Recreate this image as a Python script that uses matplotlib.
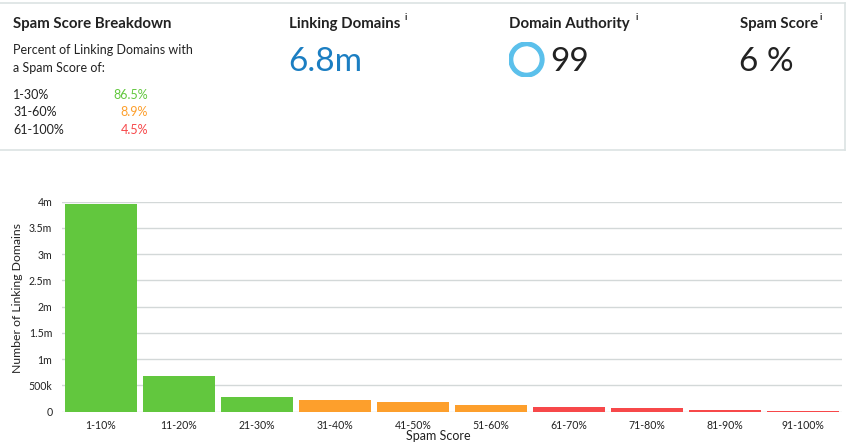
import matplotlib.pyplot as plt
from matplotlib.patches import Wedge
from matplotlib.lines import Line2D

plt.rcParams['font.family'] = ['Lato', 'DejaVu Sans']

W, H = 852, 445

categories = ['1-10%', '11-20%', '21-30%', '31-40%', '41-50%',
              '51-60%', '61-70%', '71-80%', '81-90%', '91-100%']
domains = [3950000, 680000, 276000, 215000, 177000,
           120000, 95000, 76000, 38000, 15000]
bar_colors = ['#62c73e'] * 3 + ['#fd9f2c'] * 3 + ['#f7484a'] * 4

yticks = [0, 500000, 1000000, 1500000, 2000000, 2500000, 3000000, 3500000, 4000000]
ytick_labels = ['0', '500k', '1m', '1.5m', '2m', '2.5m', '3m', '3.5m', '4m']

breakdown_labels = ['1-30%', '31-60%', '61-100%']
breakdown_values = ['86.5%', '8.9%', '4.5%']
breakdown_colors = ['#62c73e', '#fd9f2c', '#f7484a']

linking_domains = '6.8m'
domain_authority = 99
spam_score = '6 %'

fig = plt.figure(figsize=(W / 100, H / 100), dpi=100)


def fx(px):
    return px / W


def fy(py):
    return 1 - py / H


dark = '#222222'

# top panel border
for xs, ys in [([0, 845], [2.5, 2.5]), ([0, 845], [150, 150]), ([845, 845], [2.5, 150])]:
    fig.add_artist(Line2D([fx(v) for v in xs], [fy(v) for v in ys],
                          color='#dce3e3', lw=1.2))

fig.text(fx(13), fy(24), 'Spam Score Breakdown', fontsize=10.8, fontweight='bold',
         color=dark, va='center')
fig.text(fx(13), fy(50), 'Percent of Linking Domains with', fontsize=9, color=dark, va='center')
fig.text(fx(13), fy(68), 'a Spam Score of:', fontsize=9, color=dark, va='center')
for i, (lab, val, c) in enumerate(zip(breakdown_labels, breakdown_values, breakdown_colors)):
    yy = 95 + i * 17.5
    fig.text(fx(13), fy(yy), lab, fontsize=9, color=dark, va='center')
    fig.text(fx(148), fy(yy), val, fontsize=9, color=c, va='center', ha='right')

# headline metrics
for x0, title, ix in [(289, 'Linking Domains', 405), (509, 'Domain Authority', 636),
                      (740, 'Spam Score', 820)]:
    fig.text(fx(x0), fy(24), title, fontsize=10.8, fontweight='bold', color=dark, va='center')
    fig.text(fx(ix), fy(18), 'i', fontsize=6.5, fontweight='bold', color=dark, va='center')

fig.text(fx(288), fy(62), linking_domains, fontsize=24, color='#1b7ec2', va='center')
fig.text(fx(550), fy(62), str(domain_authority), fontsize=24, color=dark, va='center')
fig.text(fx(739), fy(62), spam_score, fontsize=24, color=dark, va='center')

# domain authority ring
ring_ax = fig.add_axes([fx(508.5), fy(77.5), fx(36), 36 / H])
ring_ax.set_xlim(-1, 1)
ring_ax.set_ylim(-1, 1)
ring_ax.set_aspect('equal')
ring_ax.axis('off')
ring_ax.add_patch(Wedge((0, 0), 0.97, 90, 90 + 360 * domain_authority / 100 - 1,
                        width=0.2, color='#5bc0eb'))

# bar chart
ax = fig.add_axes([fx(62), fy(411.7), fx(842) - fx(62), (411.7 - 201.5) / H])
x = range(len(categories))
ax.bar(x, domains, width=0.915, color=bar_colors, zorder=3)
ax.set_xlim(-0.5, len(categories) - 0.5)
ax.set_ylim(0, 4000000)
ax.set_yticks(yticks)
ax.set_yticklabels(ytick_labels)
ax.set_xticks(list(x))
ax.set_xticklabels(categories)
ax.grid(axis='y', color='#d3d8d8', lw=1, zorder=0)
ax.tick_params(length=0, labelsize=7.6, colors=dark)
ax.tick_params(axis='y', pad=7)
ax.tick_params(axis='x', pad=6)
for s in ax.spines.values():
    s.set_visible(False)
ax.set_ylabel('Number of Linking Domains', fontsize=8.8, color=dark)
ax.yaxis.set_label_coords(-0.05, 0.543)
ax.set_xlabel('Spam Score', fontsize=9, color=dark)
ax.xaxis.set_label_coords(0.482, -0.088)

fig.savefig('out.png', dpi=100)
